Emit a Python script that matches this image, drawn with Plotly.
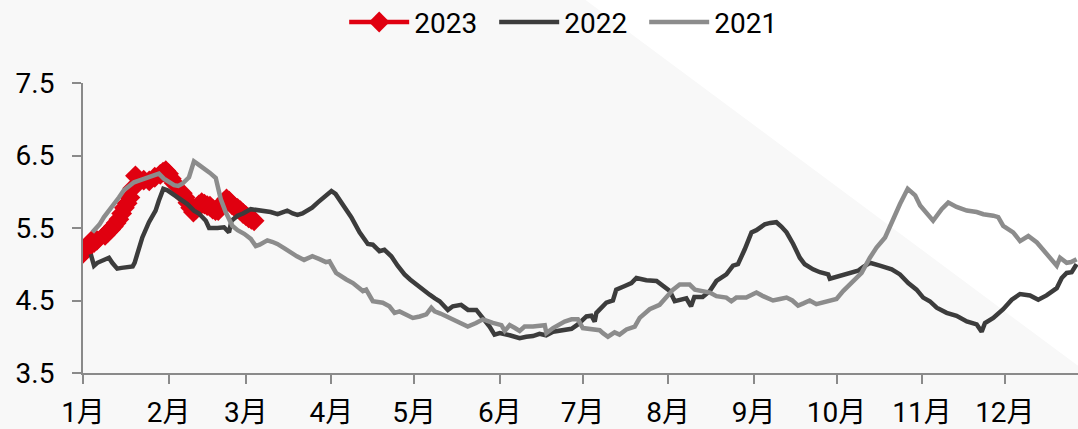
import plotly.graph_objects as go

# ---- data (x = day of year, 0 = Jan 1) ----
month_days = [0, 31, 59, 90, 120, 151, 181, 212, 243, 273, 304, 334]
month_labels = ["1月", "2月", "3月", "4月", "5月", "6月", "7月", "8月", "9月", "10月", "11月", "12月"]
y_ticks = [3.5, 4.5, 5.5, 6.5, 7.5]

days_2023 = [0, 1, 2, 3, 4, 5, 8, 9, 10, 11, 12, 13, 14, 15, 16, 17, 18, 19, 22, 24, 26, 28, 29, 30,
             31, 32, 33, 36, 37, 38, 39, 40, 41, 42, 43, 44, 45, 46, 47, 48, 49, 50, 51, 52, 53, 54,
             55, 56, 57, 58, 59, 60, 61, 62]
vals_2023 = [5.15, 5.2, 5.27, 5.32, 5.3, 5.33, 5.4, 5.44, 5.48, 5.52, 5.57, 5.62, 5.7, 5.78, 5.84, 5.92,
             6.05, 6.22, 6.16, 6.15, 6.2, 6.24, 6.27, 6.29, 6.25, 6.18, 6.12, 5.98, 5.92, 5.85, 5.78,
             5.72, 5.76, 5.82, 5.85, 5.83, 5.81, 5.8, 5.76, 5.74, 5.74, 5.8, 5.86, 5.9, 5.87, 5.82,
             5.79, 5.77, 5.74, 5.7, 5.67, 5.64, 5.62, 5.6]

days_2022 = [2.8, 4, 5.2, 7, 9.4, 10.6, 12.4, 14, 16, 18, 18.7, 20, 21.5, 23.9, 26.3, 27.5, 29.1, 30.6,
             32, 34.2, 36, 37.8, 40.2, 42, 44.5, 45.7, 48.7, 51.1, 52.9, 53.8, 56, 58, 60.8, 63, 65.6,
             68, 70.5, 72, 74, 76, 77.7, 79.5, 81.3, 83, 85, 88, 90, 91.5, 93, 94.7, 97.2, 100.2,
             103.2, 105, 107.4, 109.2, 111.7, 114, 116.5, 118.5, 120.7, 123, 125.6, 127.5, 129.2,
             132.2, 134, 137, 139.5, 142.5, 144.9, 147.3, 149.1, 151, 154.6, 158.2, 160.6, 163, 165.4,
             167.8, 170.3, 172.5, 175.1, 177, 179.3, 182.4, 184.2, 185.4, 186, 188, 189.6, 192, 193.2,
             196.3, 198.7, 200.5, 204.1, 207.8, 210.8, 212.6, 214.4, 216.8, 218.6, 220.3, 221.5,
             224.5, 227.1, 229.5, 233.1, 235.5, 237.3, 239.8, 242.2, 244, 247, 249, 251.2, 253,
             254.9, 257.3, 259.7, 261.5, 264.5, 267, 270, 270.6, 274.2, 279, 280.8, 282.6, 285.1,
             288.7, 293, 296, 299, 302, 304.4, 306.8, 309.3, 312.9, 316.5, 320.2, 323.8, 325.6,
             326.8, 329.8, 333.4, 336.5, 339.5, 343.1, 346.1, 349.1, 352.8, 354.6, 356.4, 358.2, 360]
vals_2022 = [5.14, 4.98, 5.02, 5.05, 5.09, 5.02, 4.94, 4.95, 4.96, 4.97, 5.02, 5.2, 5.37, 5.58, 5.74,
             5.88, 6.04, 6.02, 5.98, 5.92, 5.88, 5.83, 5.74, 5.7, 5.6, 5.5, 5.5, 5.51, 5.44, 5.6, 5.67,
             5.7, 5.76, 5.75, 5.74, 5.72, 5.69, 5.71, 5.74, 5.7, 5.68, 5.7, 5.74, 5.78, 5.85, 5.95,
             6.01, 5.97, 5.88, 5.78, 5.65, 5.44, 5.28, 5.27, 5.18, 5.2, 5.11, 4.98, 4.86, 4.79, 4.72,
             4.65, 4.58, 4.53, 4.49, 4.37, 4.42, 4.44, 4.37, 4.37, 4.26, 4.14, 4.03, 4.05, 4.02, 3.98,
             4.0, 4.01, 4.04, 4.02, 4.07, 4.08, 4.1, 4.11, 4.17, 4.28, 4.29, 4.21, 4.33, 4.4, 4.47,
             4.5, 4.65, 4.7, 4.74, 4.81, 4.78, 4.77, 4.68, 4.63, 4.49, 4.52, 4.53, 4.42, 4.55, 4.55,
             4.63, 4.77, 4.86, 4.98, 5.0, 5.21, 5.44, 5.47, 5.55, 5.57, 5.58, 5.52, 5.44, 5.28, 5.09,
             5.0, 4.93, 4.89, 4.86, 4.8, 4.84, 4.88, 4.91, 4.96, 5.02, 4.98, 4.93, 4.86, 4.74, 4.65,
             4.54, 4.49, 4.4, 4.33, 4.29, 4.21, 4.17, 4.07, 4.19, 4.26, 4.38, 4.51, 4.59, 4.57, 4.51,
             4.57, 4.67, 4.81, 4.88, 4.89, 5.0]

days_2021 = [3.4, 4.5, 6, 7.6, 9.5, 11.2, 13, 14.8, 16.5, 18.5, 20, 22.1, 24.5, 27.5, 29.3, 31, 33,
             34.5, 36, 38.4, 40.2, 42, 43.9, 46, 48.1, 49.9, 51.7, 54.1, 56, 58.4, 60.8, 62.6, 64,
             66.8, 68.5, 70.4, 73, 75.3, 77.5, 80.1, 83.1, 85.7, 88, 89.3, 91.7, 95.4, 97.8, 101.4,
             102.6, 105, 108.6, 111, 112.9, 114.7, 117, 119.5, 122, 124.4, 126.2, 127.4, 129.5,
             131.6, 135.2, 137.5, 139.4, 142.4, 144.9, 148.5, 151.6, 152.8, 154.6, 156.5, 158.2, 160,
             163, 167.3, 167.9, 170.3, 172.5, 174.5, 177, 179.3, 181.1, 184.8, 187.2, 188.4, 190.2,
             192.6, 194.4, 196.9, 199.9, 201.7, 205.3, 208.9, 211.3, 213.8, 216.2, 219.8, 221.7,
             224.7, 227.1, 229.5, 233.1, 234.9, 236.7, 240.3, 244, 246.4, 250, 252.5, 254.9, 257,
             259.1, 261, 263.3, 265.7, 268, 270.6, 273, 275.4, 279, 282.1, 285.1, 287.5, 290.6,
             292.3, 293.6, 296, 298.8, 301.5, 303.3, 305.7, 308, 311.1, 313.5, 316.5, 320.2, 323.8,
             326.2, 329.8, 331.6, 333.4, 337, 339.5, 342.5, 345.6, 349.2, 352.8, 354, 356.4, 358, 360]
vals_2021 = [5.44, 5.48, 5.55, 5.65, 5.74, 5.83, 5.92, 6.02, 6.08, 6.13, 6.15, 6.18, 6.2, 6.25, 6.18,
             6.13, 6.09, 6.08, 6.11, 6.2, 6.42, 6.37, 6.32, 6.26, 6.19, 5.9, 5.72, 5.53, 5.47, 5.42,
             5.35, 5.25, 5.27, 5.33, 5.31, 5.28, 5.22, 5.16, 5.11, 5.06, 5.11, 5.07, 5.03, 5.04, 4.88,
             4.79, 4.74, 4.63, 4.65, 4.49, 4.47, 4.42, 4.33, 4.35, 4.3, 4.26, 4.28, 4.31, 4.4, 4.35,
             4.32, 4.28, 4.21, 4.17, 4.14, 4.19, 4.24, 4.19, 4.16, 4.08, 4.16, 4.12, 4.08, 4.14, 4.14,
             4.16, 4.05, 4.12, 4.17, 4.21, 4.24, 4.24, 4.12, 4.1, 4.09, 4.05, 4.0, 4.06, 4.03, 4.1,
             4.14, 4.26, 4.38, 4.44, 4.54, 4.65, 4.72, 4.72, 4.65, 4.63, 4.61, 4.56, 4.54, 4.49, 4.54,
             4.54, 4.61, 4.56, 4.5, 4.52, 4.54, 4.5, 4.43, 4.46, 4.5, 4.45, 4.47, 4.49, 4.52, 4.63,
             4.77, 4.88, 5.09, 5.23, 5.37, 5.51, 5.65, 5.83, 6.04, 5.95, 5.81, 5.69, 5.6, 5.76, 5.85,
             5.79, 5.74, 5.72, 5.69, 5.67, 5.65, 5.53, 5.44, 5.32, 5.39, 5.3, 5.14, 4.98, 5.09, 5.02,
             5.03, 5.07]

FONT = "Roboto, 'Noto Sans CJK SC', sans-serif"
AXIS_GRAY = "#8a8a8a"

fig = go.Figure()
fig.add_trace(go.Scatter(x=days_2023, y=vals_2023, name="2023", mode="lines+markers",
                         line=dict(color="#e00010", width=4.5),
                         marker=dict(symbol="diamond", size=16, color="#e00010")))
fig.add_trace(go.Scatter(x=days_2022, y=vals_2022, name="2022", mode="lines",
                         line=dict(color="#3c3c3c", width=4.5)))
fig.add_trace(go.Scatter(x=days_2021, y=vals_2021, name="2021", mode="lines",
                         line=dict(color="#8c8c8c", width=4.5)))

fig.update_layout(
    width=1078, height=429,
    margin=dict(l=83, r=0, t=83, b=56, autoexpand=False),
    paper_bgcolor="#f8f8f8",
    plot_bgcolor="rgba(0,0,0,0)",
    font=dict(family=FONT, size=28, color="#000000"),
    showlegend=True,
    legend=dict(orientation="h", xref="container", yref="container",
                x=0.528, xanchor="center", y=0.948, yanchor="middle",
                font=dict(family=FONT, size=28, color="#000000"),
                bgcolor="rgba(0,0,0,0)", itemwidth=60, entrywidth=75, tracegroupgap=0),
    shapes=[dict(type="path", xref="paper", yref="paper",
                 path="M 0.5036 1.29 L 1.0 1.29 L 1.0 0.025 Z",
                 fillcolor="#ffffff", line=dict(width=0), layer="below")],
)
fig.update_xaxes(range=[0, 360.5], tickmode="array", tickvals=month_days, ticktext=month_labels,
                 showline=True, linecolor=AXIS_GRAY, linewidth=2, ticks="outside", ticklen=9,
                 tickcolor=AXIS_GRAY, tickwidth=2, showgrid=False, zeroline=False, automargin=False,
                 ticklabelstandoff=4, tickfont=dict(family=FONT, size=28))
fig.update_yaxes(range=[3.5, 7.5], tickmode="array", tickvals=y_ticks,
                 ticktext=[f"{v:.1f}" for v in y_ticks],
                 showline=True, linecolor=AXIS_GRAY, linewidth=2, ticks="outside", ticklen=9,
                 tickcolor=AXIS_GRAY, tickwidth=2, showgrid=False, zeroline=False, automargin=False,
                 ticklabelstandoff=12, tickfont=dict(family=FONT, size=28))

fig.write_html("out.html", config={"displayModeBar": False},
               post_script="document.body.style.margin='0px';document.body.style.overflow='hidden';")
